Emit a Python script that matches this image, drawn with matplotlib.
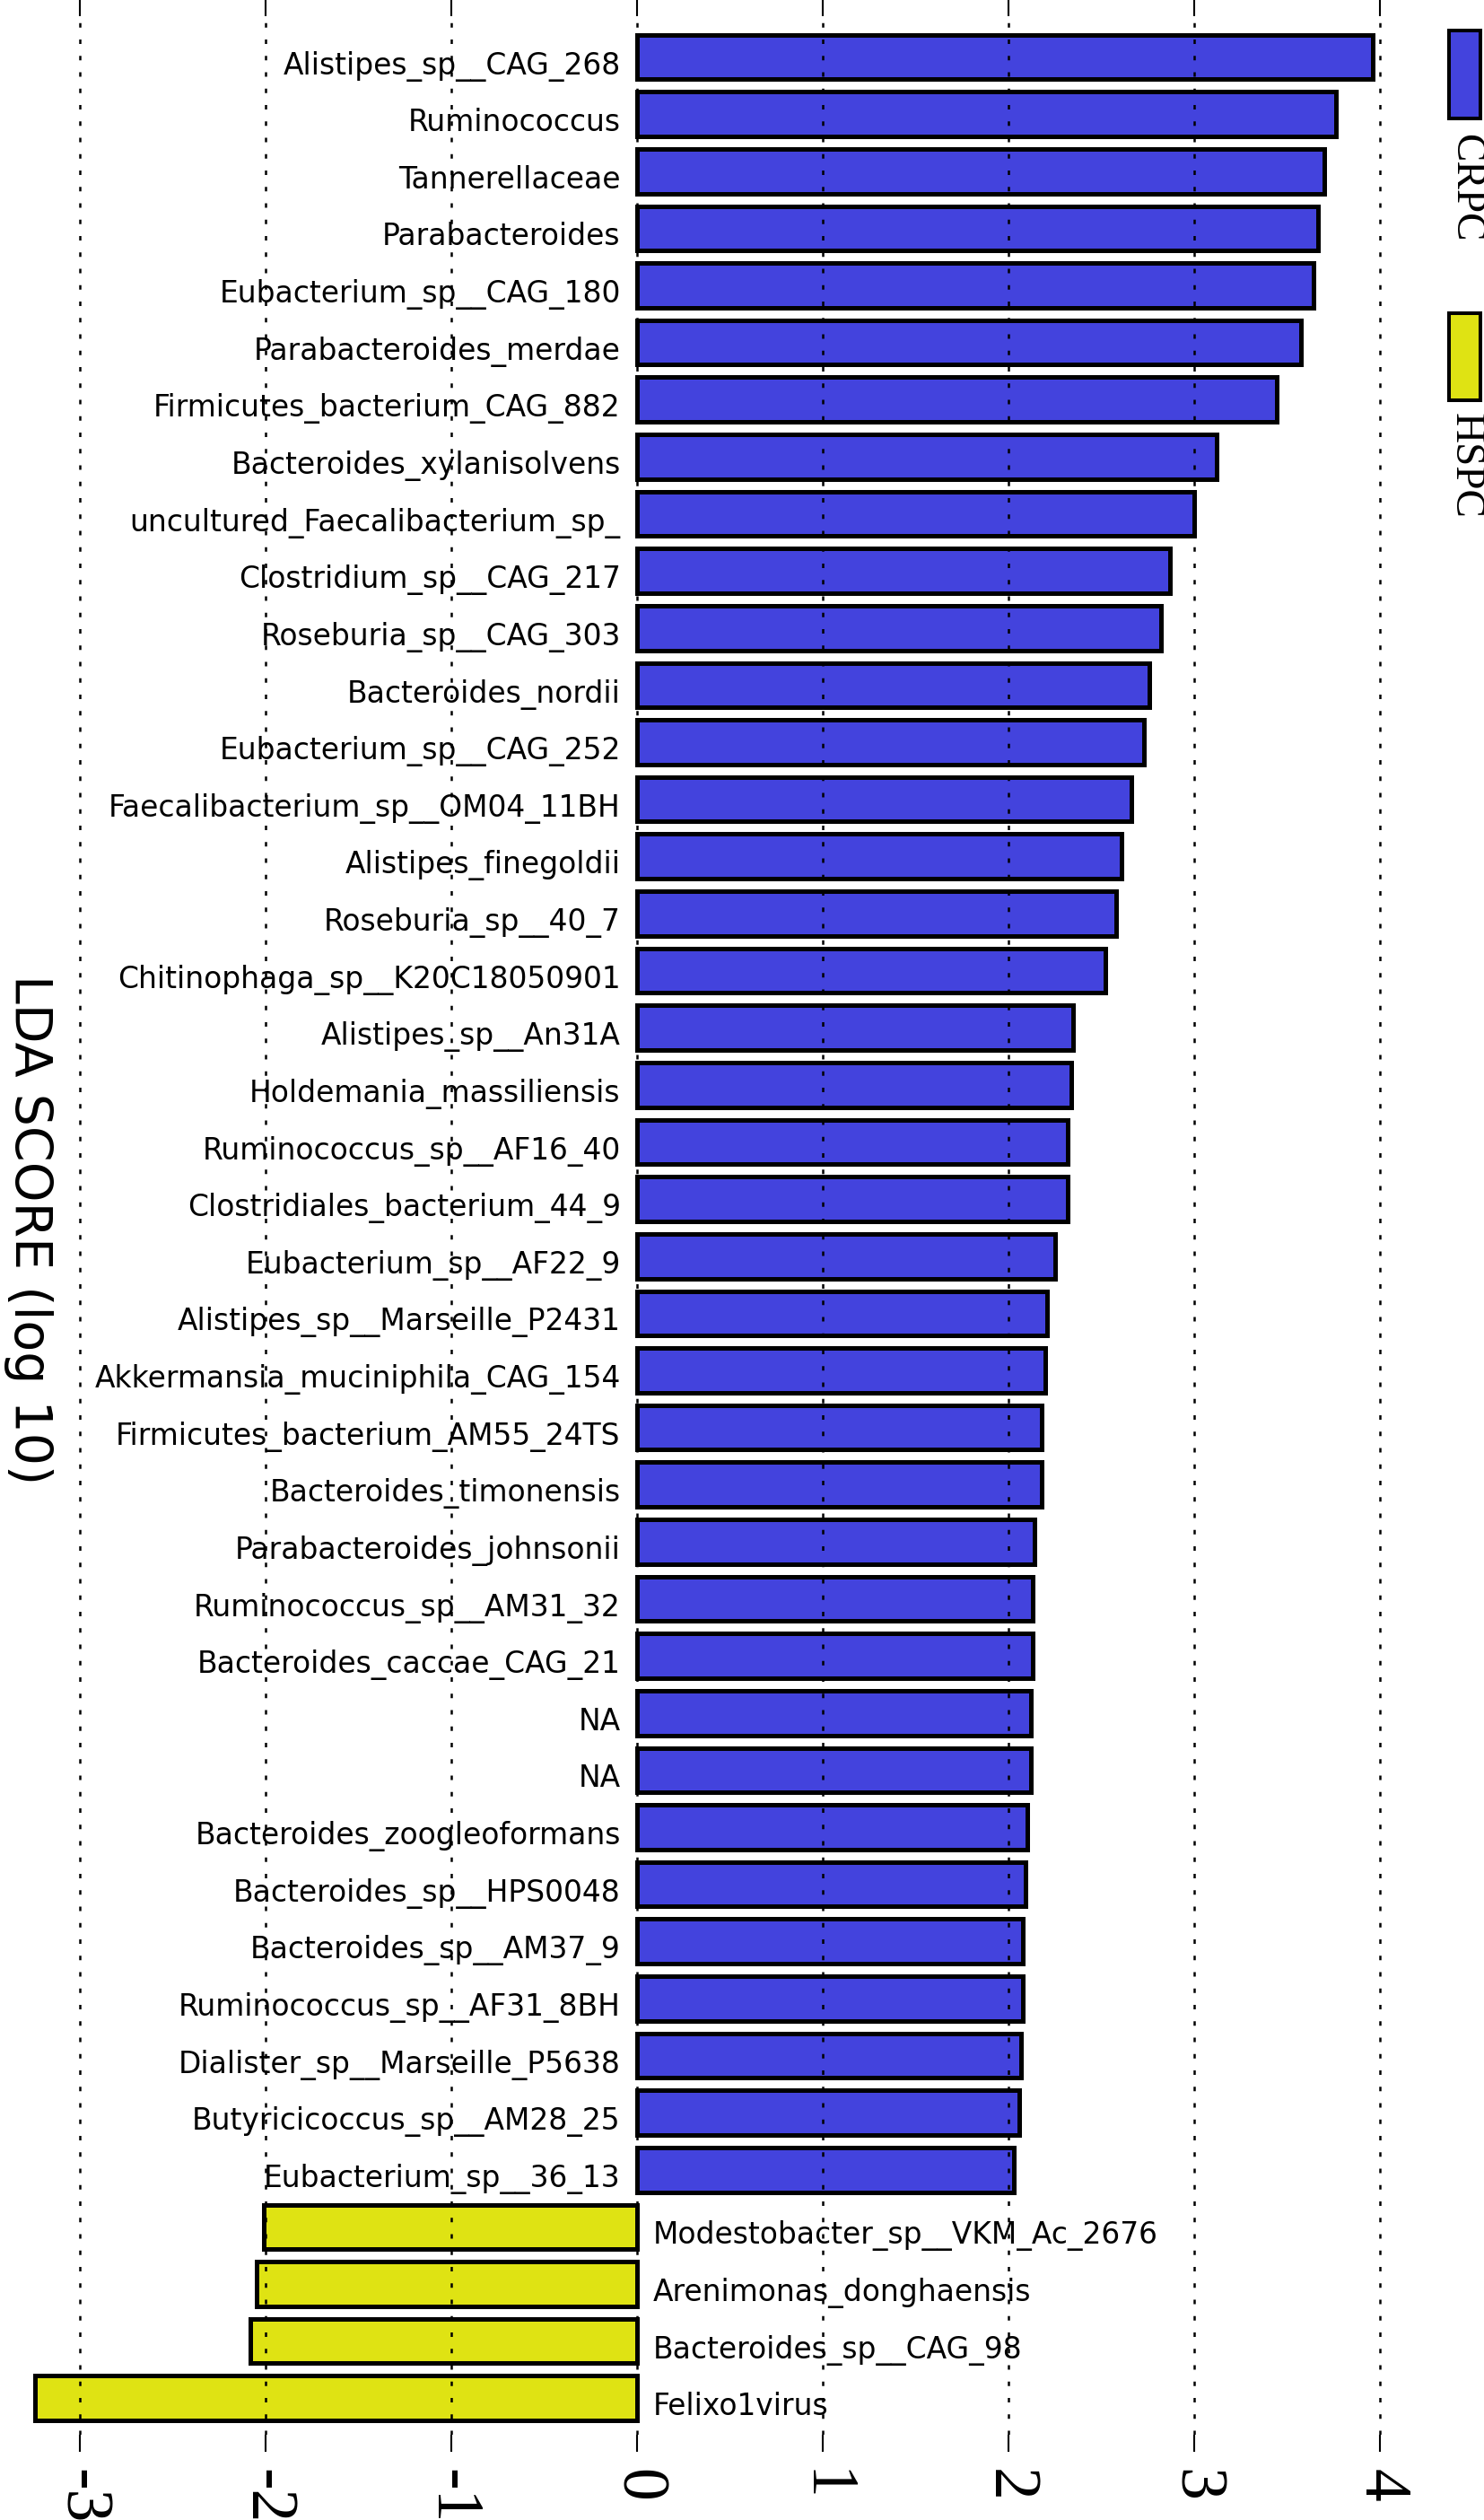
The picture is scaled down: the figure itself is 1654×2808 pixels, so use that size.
import matplotlib
matplotlib.use("Agg")
import matplotlib.pyplot as plt
from matplotlib.patches import Rectangle

taxa = [
    "Alistipes_sp__CAG_268", "Ruminococcus", "Tannerellaceae", "Parabacteroides",
    "Eubacterium_sp__CAG_180", "Parabacteroides_merdae", "Firmicutes_bacterium_CAG_882",
    "Bacteroides_xylanisolvens", "uncultured_Faecalibacterium_sp_", "Clostridium_sp__CAG_217",
    "Roseburia_sp__CAG_303", "Bacteroides_nordii", "Eubacterium_sp__CAG_252",
    "Faecalibacterium_sp__OM04_11BH", "Alistipes_finegoldii", "Roseburia_sp__40_7",
    "Chitinophaga_sp__K20C18050901", "Alistipes_sp__An31A", "Holdemania_massiliensis",
    "Ruminococcus_sp__AF16_40", "Clostridiales_bacterium_44_9", "Eubacterium_sp__AF22_9",
    "Alistipes_sp__Marseille_P2431", "Akkermansia_muciniphila_CAG_154",
    "Firmicutes_bacterium_AM55_24TS", "Bacteroides_timonensis", "Parabacteroides_johnsonii",
    "Ruminococcus_sp__AM31_32", "Bacteroides_caccae_CAG_21", "NA", "NA",
    "Bacteroides_zoogleoformans", "Bacteroides_sp__HPS0048", "Bacteroides_sp__AM37_9",
    "Ruminococcus_sp__AF31_8BH", "Dialister_sp__Marseille_P5638", "Butyricicoccus_sp__AM28_25",
    "Eubacterium_sp__36_13", "Modestobacter_sp__VKM_Ac_2676", "Arenimonas_donghaensis",
    "Bacteroides_sp__CAG_98", "Felixo1virus",
]
lda = [
    3.96, 3.765, 3.70, 3.665, 3.645, 3.575, 3.445, 3.12, 3.00, 2.87,
    2.82, 2.76, 2.73, 2.66, 2.61, 2.58, 2.52, 2.35, 2.34, 2.32,
    2.32, 2.25, 2.21, 2.20, 2.18, 2.18, 2.14, 2.13, 2.13, 2.12,
    2.12, 2.10, 2.09, 2.08, 2.08, 2.07, 2.06, 2.03,
    -2.01, -2.05, -2.08, -3.24,
]
group = ["CRPC"] * 38 + ["HSPC"] * 4
classes = ["CRPC", "HSPC"]
colors = {"CRPC": "#4343DD", "HSPC": "#DFE313"}
xticks = [-3, -2, -1, 0, 1, 2, 3, 4]

plt.rcParams['axes.unicode_minus'] = False

fig = plt.figure(figsize=(16.54, 28.08), dpi=100)
ax = fig.add_axes([0.0, 0.03383, 0.96735, 0.95976])

pos = list(range(len(taxa)))
ax.barh(pos, lda, height=0.78, color=[colors[g] for g in group],
        edgecolor='black', linewidth=3.6, zorder=1)

for i, (name, v) in enumerate(zip(taxa, lda)):
    if v >= 0:
        ax.text(-0.088, i + 0.30, name, ha='right', va='baseline',
                fontsize=23.7, family='DejaVu Sans', zorder=3)
    else:
        ax.text(0.087, i + 0.30, name, ha='left', va='baseline',
                fontsize=23.7, family='DejaVu Sans', zorder=3)

ax.set_xlim(-3.430, 4.300)
ax.set_ylim(41.64, -0.715)
ax.set_xticks(xticks)
ax.set_xticklabels([str(t) for t in xticks], rotation=-90,
                   family='Liberation Serif', fontsize=53)
ax.set_yticks([])
for s in ax.spines.values():
    s.set_visible(False)
ax.tick_params(axis='x', which='both', top=True, bottom=True, direction='out',
               length=13.5, width=1.5, pad=14)

ax.set_axisbelow(False)
ax.grid(axis='x', color='black', linewidth=1.8, linestyle=(0, (2.0, 5.3)), zorder=2)

fig.text(31 / 1654, 1 - 1370 / 2808, "LDA SCORE (log 10)", rotation=-90,
         ha='center', va='center', fontsize=41, family='DejaVu Sans')

# legend, drawn rotated like the axis
leg_y = [(34, 132, 209), (349, 446, 519)]
for cls, (y0, y1, ty) in zip(classes, leg_y):
    fig.add_artist(Rectangle((1615 / 1654, 1 - y1 / 2808), 35 / 1654, (y1 - y0) / 2808,
                             transform=fig.transFigure, facecolor=colors[cls],
                             edgecolor='black', linewidth=2.9))
    fig.text(1633 / 1654, 1 - ty / 2808, cls, rotation=-90, ha='center', va='center',
             fontsize=34, family='Liberation Serif')

fig.savefig("out.png", dpi=100)
